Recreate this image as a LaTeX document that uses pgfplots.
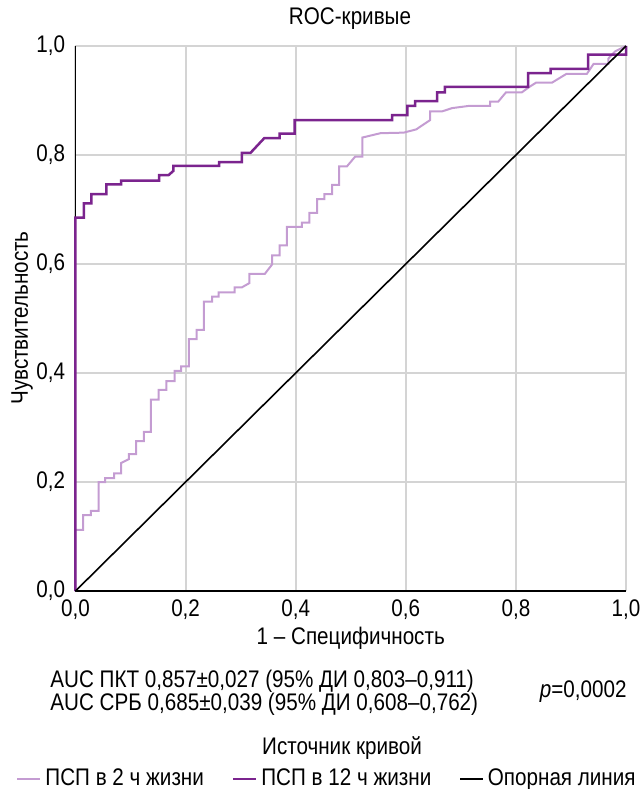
\documentclass[border=0pt]{standalone}
\usepackage{fontspec}
\setmainfont[FakeStretch=0.86]{Liberation Sans}
\usepackage{pgfplots}
\pgfplotsset{compat=1.18}
\definecolor{darkp}{RGB}{123,36,142}
\definecolor{lightp}{RGB}{196,156,210}
\definecolor{gridc}{RGB}{212,212,212}
\begin{document}
\fontsize{12}{14.4}\selectfont
\begin{tikzpicture}
\begin{axis}[
  scale only axis, width=275.25pt, height=272.5pt,
  xmin=0, xmax=1, ymin=0, ymax=1,
  axis x line*=bottom, axis y line*=left,
  axis line style={black, line width=0.8pt, -},
  xtick={0,0.2,0.4,0.6,0.8,1}, ytick={0,0.2,0.4,0.6,0.8,1},
  grid=major, major grid style={gridc, line width=1pt},
  major tick length=0pt,
  tick label style={/pgf/number format/fixed, /pgf/number format/fixed zerofill, /pgf/number format/precision=1, /pgf/number format/use comma, /pgf/number format/assume math mode=true},
  yticklabel style={xshift=-1pt},
  xlabel={1 – Специфичность},
  xlabel style={at={(axis description cs:0.5,-0.0862)}, anchor=center, inner sep=0pt},
  ylabel={Чувствительность},
  ylabel style={at={(axis description cs:-0.0972,0.501)}, anchor=center, inner sep=0pt, rotate=0},
  clip=false,
  legend columns=3,
  legend style={draw=none, fill=none, at={(axis description cs:0.4587,-0.3450)}, anchor=center,
    nodes={inner xsep=2pt},
    /tikz/every even column/.append style={column sep=12pt}},
  legend image code/.code={\draw[#1] (0pt,0pt) -- (11.5pt,0pt);},
]
\addplot[lightp, line width=1pt] coordinates {
(0,0) (0,0.112) (0.014,0.112) (0.014,0.139) (0.028,0.139) (0.028,0.147) (0.042,0.147) (0.042,0.200) (0.054,0.200) (0.054,0.207) (0.070,0.207) (0.070,0.216) (0.083,0.216) (0.083,0.235) (0.097,0.242) (0.097,0.251) (0.110,0.251) (0.110,0.275) (0.124,0.275) (0.124,0.292) (0.137,0.292) (0.137,0.351) (0.151,0.351) (0.151,0.369) (0.165,0.369) (0.165,0.385) (0.180,0.385) (0.180,0.404) (0.192,0.404) (0.192,0.412) (0.206,0.412) (0.206,0.462) (0.220,0.462) (0.220,0.479) (0.233,0.479) (0.233,0.531) (0.248,0.531) (0.248,0.540) (0.260,0.540) (0.260,0.548) (0.289,0.548) (0.289,0.557) (0.302,0.557) (0.316,0.565) (0.316,0.582) (0.344,0.582) (0.357,0.599) (0.357,0.616) (0.371,0.616) (0.371,0.634) (0.384,0.634) (0.384,0.668) (0.411,0.668) (0.411,0.676) (0.425,0.676) (0.425,0.694) (0.439,0.694) (0.439,0.719) (0.452,0.719) (0.452,0.728) (0.466,0.728) (0.466,0.745) (0.479,0.745) (0.479,0.779) (0.493,0.779) (0.508,0.797) (0.521,0.797) (0.521,0.832) (0.554,0.840) (0.596,0.841) (0.619,0.847) (0.644,0.864) (0.644,0.880) (0.666,0.880) (0.684,0.886) (0.714,0.890) (0.753,0.890) (0.753,0.898) (0.768,0.898) (0.782,0.915) (0.811,0.915) (0.823,0.924) (0.837,0.933) (0.866,0.933) (0.892,0.949) (0.929,0.949) (0.941,0.967) (0.968,0.967) (0.968,0.977) (0.980,0.990) (1,1)
};
\addlegendentry{ПСП в 2 ч жизни}
\addplot[darkp, line width=1.25pt] coordinates {
(0,0) (0,0.685) (0.015,0.685) (0.015,0.711) (0.029,0.711) (0.029,0.728) (0.056,0.728) (0.056,0.746) (0.083,0.746) (0.083,0.753) (0.152,0.753) (0.152,0.763) (0.169,0.763) (0.178,0.771) (0.178,0.780) (0.261,0.780) (0.261,0.787) (0.302,0.787) (0.302,0.804) (0.318,0.804) (0.343,0.831) (0.371,0.831) (0.371,0.839) (0.398,0.839) (0.398,0.864) (0.575,0.864) (0.575,0.873) (0.603,0.873) (0.603,0.890) (0.617,0.890) (0.617,0.899) (0.657,0.899) (0.657,0.915) (0.671,0.915) (0.671,0.925) (0.822,0.925) (0.822,0.950) (0.863,0.950) (0.863,0.958) (0.931,0.958) (0.931,0.984) (1,0.984) (1,1)
};
\addlegendentry{ПСП в 12 ч жизни}
\addplot[black, line width=0.8pt] coordinates {(0,0) (1,1)};
\addlegendentry{Опорная линия}
\coordinate (TL) at (rel axis cs:-0.13715,1.08440);
\coordinate (BR) at (rel axis cs:1.02725,-0.36330);
\end{axis}
\begin{scope}[shift={(TL)}, x=0.5pt, y=-0.5pt]
\node[inner sep=0pt] at (350,19) {ROC-кривые};
\node[anchor=west, inner sep=0pt] at (50,681) {AUC ПКТ 0,857±0,027 (95\% ДИ 0,803–0,911)};
\node[anchor=west, inner sep=0pt] at (50,704) {AUC СРБ 0,685±0,039 (95\% ДИ 0,608–0,762)};
\node[anchor=east, inner sep=0pt] at (627,692) {\textit{p}=0,0002};
\node[inner sep=0pt] at (342,748) {Источник кривой};
\end{scope}
\pgfresetboundingbox
\path[use as bounding box] (TL) rectangle (BR);
\end{tikzpicture}
\end{document}
